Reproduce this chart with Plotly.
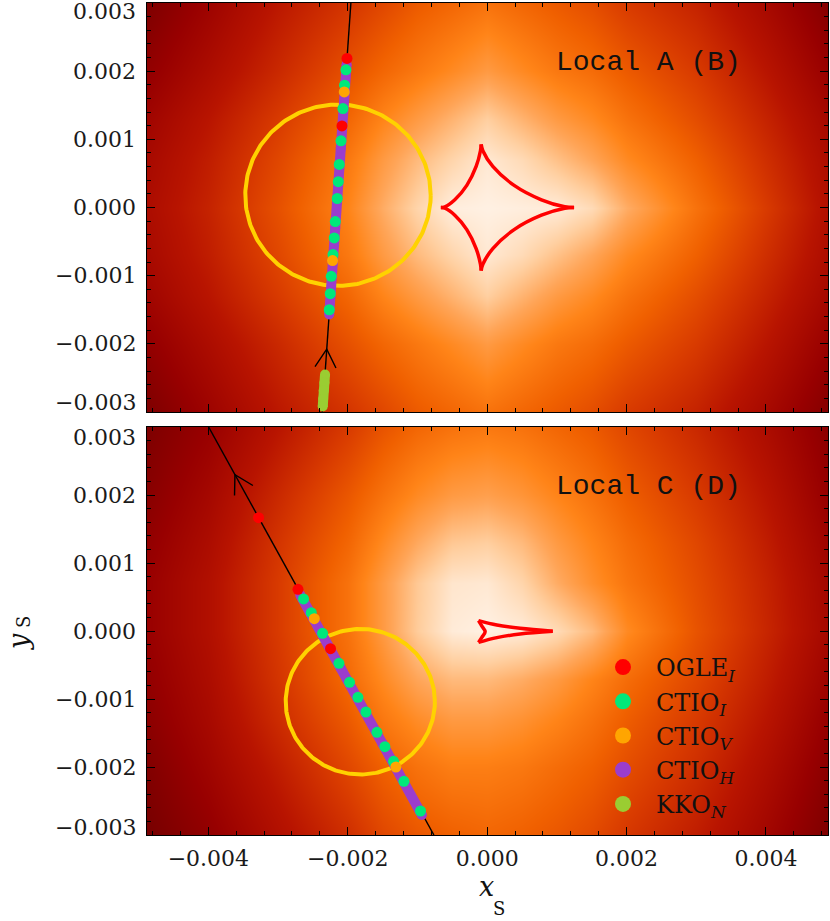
import numpy as np
import plotly.graph_objects as go

# ---------------- axes / layout constants ----------------
X_RANGE = [-0.00488, 0.00489]
Y_RANGE = [-0.003, 0.003]
FIG_W, FIG_H = 830, 921
M_L, M_R, M_T, M_B = 147, 2, 3, 86
PLOT_W = FIG_W - M_L - M_R
PLOT_H = FIG_H - M_T - M_B
TOP_DOMAIN = [(835 - 412) / PLOT_H, 1.0]
BOT_DOMAIN = [0.0, (835 - 427) / PLOT_H]
PANEL_H = 409

y_tick_vals = [-0.003, -0.002, -0.001, 0.0, 0.001, 0.002, 0.003]
y_tick_text = ["\u22120.003", "\u22120.002", "\u22120.001", "0.000", "0.001", "0.002", "0.003"]

# ---------------- magnification background ----------------
grid_x = [-0.0049, -0.004, -0.003, -0.002, -0.0015, -0.001, -0.0005, 0.0,
          0.0005, 0.001, 0.0015, 0.002, 0.003, 0.004, 0.0049]
grid_y = [-0.003, -0.002, -0.0013, -0.0007, 0.0, 0.0007, 0.0013, 0.002, 0.003]

mag_top = [
    [0.04, 0.14, 0.26, 0.36, 0.42, 0.48, 0.52, 0.56, 0.52, 0.48, 0.44, 0.38, 0.30, 0.18, 0.06],
    [0.10, 0.20, 0.32, 0.45, 0.52, 0.58, 0.64, 0.70, 0.64, 0.58, 0.54, 0.48, 0.38, 0.25, 0.12],
    [0.15, 0.25, 0.38, 0.52, 0.62, 0.70, 0.78, 0.86, 0.78, 0.70, 0.64, 0.56, 0.44, 0.30, 0.17],
    [0.18, 0.28, 0.42, 0.58, 0.70, 0.80, 0.88, 0.95, 0.90, 0.82, 0.74, 0.64, 0.50, 0.34, 0.20],
    [0.20, 0.30, 0.45, 0.62, 0.76, 0.88, 0.97, 0.98, 0.97, 0.96, 0.90, 0.76, 0.56, 0.38, 0.22],
    [0.18, 0.28, 0.42, 0.58, 0.70, 0.80, 0.88, 0.95, 0.90, 0.82, 0.74, 0.64, 0.50, 0.34, 0.20],
    [0.15, 0.25, 0.38, 0.52, 0.62, 0.70, 0.78, 0.86, 0.78, 0.70, 0.64, 0.56, 0.44, 0.30, 0.17],
    [0.10, 0.20, 0.32, 0.45, 0.52, 0.58, 0.64, 0.70, 0.64, 0.58, 0.54, 0.48, 0.38, 0.25, 0.12],
    [0.04, 0.14, 0.26, 0.36, 0.42, 0.48, 0.52, 0.56, 0.52, 0.48, 0.44, 0.38, 0.30, 0.18, 0.06],
]
mag_bot = [
    [0.02, 0.10, 0.22, 0.34, 0.42, 0.47, 0.50, 0.52, 0.50, 0.47, 0.43, 0.37, 0.28, 0.16, 0.04],
    [0.05, 0.15, 0.28, 0.42, 0.50, 0.56, 0.60, 0.60, 0.58, 0.54, 0.50, 0.44, 0.34, 0.21, 0.08],
    [0.08, 0.18, 0.33, 0.48, 0.58, 0.65, 0.70, 0.70, 0.67, 0.62, 0.56, 0.49, 0.38, 0.25, 0.11],
    [0.10, 0.20, 0.36, 0.53, 0.64, 0.74, 0.80, 0.80, 0.76, 0.70, 0.62, 0.54, 0.42, 0.28, 0.14],
    [0.12, 0.22, 0.38, 0.56, 0.70, 0.85, 0.96, 0.98, 0.96, 0.90, 0.80, 0.64, 0.46, 0.31, 0.17],
    [0.12, 0.22, 0.38, 0.56, 0.70, 0.84, 0.94, 0.95, 0.88, 0.76, 0.66, 0.57, 0.44, 0.30, 0.16],
    [0.10, 0.20, 0.36, 0.52, 0.64, 0.75, 0.84, 0.86, 0.80, 0.70, 0.62, 0.54, 0.42, 0.28, 0.14],
    [0.07, 0.17, 0.32, 0.47, 0.56, 0.64, 0.70, 0.72, 0.68, 0.62, 0.56, 0.49, 0.38, 0.25, 0.11],
    [0.04, 0.12, 0.25, 0.38, 0.46, 0.52, 0.56, 0.58, 0.56, 0.52, 0.48, 0.42, 0.32, 0.20, 0.08],
]
mag_colorscale = [
    [0.00, "#700000"], [0.12, "#980000"], [0.25, "#b81400"], [0.38, "#d83a00"],
    [0.50, "#f06000"], [0.62, "#ff8418"], [0.74, "#ffa558"], [0.86, "#ffcfa0"],
    [1.00, "#fff6ee"],
]

# ---------------- caustics ----------------
caustic_top_arcs_x = [
    [-0.000664, -0.000607, -0.000464, -0.000292, -0.000158, -0.000096, -0.000086],
    [-0.000086, -0.000062, 0.000081, 0.000387, 0.000779, 0.001114, 0.001247],
    [0.001247, 0.001114, 0.000779, 0.000387, 0.000081, -0.000062, -0.000086],
    [-0.000086, -0.000096, -0.000158, -0.000292, -0.000464, -0.000607, -0.000664],
]
caustic_top_arcs_y = [
    [0.0, 0.00001, 0.000113, 0.000324, 0.000603, 0.000833, 0.000926],
    [0.000926, 0.000833, 0.000603, 0.000324, 0.000113, 0.00001, 0.0],
    [0.0, -0.00001, -0.000113, -0.000324, -0.000603, -0.000833, -0.000926],
    [-0.000926, -0.000833, -0.000603, -0.000324, -0.000113, -0.00001, 0.0],
]
caustic_bot_arcs_x = [
    [-0.000124, 0.000139, 0.000473, 0.000941],
    [0.000941, 0.000473, 0.000139, -0.000124],
    [-0.000124, -0.0000765, -0.0000287, -0.0000765, -0.000124],
]
caustic_bot_arcs_y = [
    [0.000152, 0.000088, 0.000039, -0.000005],
    [-0.000005, -0.000044, -0.000098, -0.000167],
    [-0.000167, -0.000093, -0.00001, 0.0000735, 0.000152],
]

# ---------------- source trajectories (start -> end, direction of motion) ----------------
traj_top_x = [-0.002364, -0.001955]
traj_top_y = [-0.003, 0.003]
traj_bot_x = [-0.000764, -0.003996]
traj_bot_y = [-0.003, 0.003]
arrow_top_y = -0.002078
arrow_bot_y = 0.002299

# ---------------- source size circles ----------------
circle_top = (-0.00214, 0.00018, 0.00133)
circle_bot = (-0.00182, -0.00104, 0.00107)

# ---------------- data points ----------------
ogle_top_x = [-0.002011, -0.002083]
ogle_top_y = [0.002187, 0.001196]
ctioI_top_x = [-0.002026, -0.002046, -0.002069, -0.002097, -0.002122, -0.002136, -0.002151,
               -0.002179, -0.002194, -0.002212, -0.002237, -0.002251, -0.002265]
ctioI_top_y = [0.002019, 0.001794, 0.001451, 0.000978, 0.000632, 0.000378, 0.000132,
               -0.000206, -0.000446, -0.000691, -0.001010, -0.001265, -0.0015]
ctioV_top_x = [-0.002050, -0.002218]
ctioV_top_y = [0.001696, -0.000779]
ctioH_top_x = [-0.002016, -0.002100, -0.002180, -0.002266]
ctioH_top_y = [0.0021, 0.00087, -0.00030, -0.00157]
kko_top_x = [-0.002326, -0.002335, -0.002345, -0.002352, -0.002359]
kko_top_y = [-0.00245, -0.00257, -0.00269, -0.00281, -0.00292]

ogle_bot_x = [-0.003279, -0.002714, -0.002247]
ogle_bot_y = [0.001666, 0.000613, -0.000260]
ctioI_bot_x = [-0.002634, -0.002523, -0.002361, -0.002126, -0.001974, -0.001854, -0.001739,
               -0.001581, -0.001467, -0.001343, -0.001194, -0.000956]
ctioI_bot_y = [0.000471, 0.000269, -0.000034, -0.000475, -0.000754, -0.000975, -0.001191,
               -0.001490, -0.001701, -0.001916, -0.002210, -0.002647]
ctioV_bot_x = [-0.002480, -0.001309]
ctioV_bot_y = [0.000181, -0.002]
ctioH_bot_x = [-0.002681, -0.002100, -0.001500, -0.000936]
ctioH_bot_y = [0.000529, -0.000550, -0.001660, -0.002706]

legend_names = ["OGLE<sub><i>I</i></sub>", "CTIO<sub><i>I</i></sub>", "CTIO<sub><i>V</i></sub>",
                "CTIO<sub><i>H</i></sub>", "KKO<sub><i>N</i></sub>"]
legend_colors = ["#ff0000", "#00e87a", "#ffa500", "#9b3dcc", "#9acd32"]
C_OGLE, C_CI, C_CV, C_CH, C_KKO = legend_colors

panel_labels = ["Local A (B)", "Local C (D)"]
label_pos = (0.00231, 0.00213)

# ---------------- build figure ----------------
fig = go.Figure()
SX = PLOT_W / (X_RANGE[1] - X_RANGE[0])
SY = PANEL_H / (Y_RANGE[1] - Y_RANGE[0])


def arrow_arms(tx, ty, apex_y, length=21.0, ang=30.0):
    slope = (tx[1] - tx[0]) / (ty[1] - ty[0])
    ax = tx[0] + (apex_y - ty[0]) * slope
    bx = (tx[0] - tx[1]) * SX
    by = (ty[0] - ty[1]) * SY
    n = np.hypot(bx, by)
    bx, by = bx / n, by / n
    xs, ys = [], []
    for s in (1, -1):
        a = np.radians(ang * s)
        rx = bx * np.cos(a) - by * np.sin(a)
        ry = bx * np.sin(a) + by * np.cos(a)
        xs.append(ax + length * rx / SX)
        ys.append(apex_y + length * ry / SY)
    return [xs[0], ax, xs[1]], [ys[0], apex_y, ys[1]]


def add_panel(xa, ya, mag, caus_x, caus_y, tx, ty, arrow_y, circ, bands, points):
    fig.add_trace(go.Heatmap(x=grid_x, y=grid_y, z=mag, colorscale=mag_colorscale, zmin=0, zmax=1,
                             zsmooth="best", showscale=False, hoverinfo="skip", xaxis=xa, yaxis=ya))
    fig.add_trace(go.Scatter(x=tx, y=ty, mode="lines", line=dict(color="black", width=1.4),
                             showlegend=False, hoverinfo="skip", xaxis=xa, yaxis=ya))
    axx, ayy = arrow_arms(tx, ty, arrow_y)
    fig.add_trace(go.Scatter(x=axx, y=ayy, mode="lines", line=dict(color="black", width=1.4),
                             showlegend=False, hoverinfo="skip", xaxis=xa, yaxis=ya))
    cx, cy, r = circ
    th = np.linspace(0, 2 * np.pi, 241)
    fig.add_trace(go.Scatter(x=cx + r * np.cos(th), y=cy + r * np.sin(th), mode="lines",
                             line=dict(color="#ffd200", width=4), showlegend=False,
                             hoverinfo="skip", xaxis=xa, yaxis=ya))
    for cxs, cys in zip(caus_x, caus_y):
        fig.add_trace(go.Scatter(x=cxs, y=cys, mode="lines", line=dict(color="#ff0000", width=3.5, shape="spline"),
                                 showlegend=False, hoverinfo="skip", xaxis=xa, yaxis=ya))
    for bx, by, col in bands:
        fig.add_trace(go.Scatter(x=bx, y=by, mode="lines+markers", line=dict(color=col, width=10),
                                 marker=dict(color=col, size=10), showlegend=False,
                                 hoverinfo="skip", xaxis=xa, yaxis=ya))
    for px, py, col in points:
        fig.add_trace(go.Scatter(x=px, y=py, mode="markers", marker=dict(color=col, size=11),
                                 showlegend=False, hoverinfo="skip", xaxis=xa, yaxis=ya))


add_panel("x", "y", mag_top, caustic_top_arcs_x, caustic_top_arcs_y, traj_top_x, traj_top_y,
          arrow_top_y, circle_top,
          [(ctioH_top_x, ctioH_top_y, C_CH), (kko_top_x, kko_top_y, C_KKO)],
          [(ctioI_top_x, ctioI_top_y, C_CI), (ogle_top_x, ogle_top_y, C_OGLE),
           (ctioV_top_x, ctioV_top_y, C_CV)])
add_panel("x2", "y2", mag_bot, caustic_bot_arcs_x, caustic_bot_arcs_y, traj_bot_x, traj_bot_y,
          arrow_bot_y, circle_bot,
          [(ctioH_bot_x, ctioH_bot_y, C_CH)],
          [(ctioI_bot_x, ctioI_bot_y, C_CI), (ogle_bot_x, ogle_bot_y, C_OGLE),
           (ctioV_bot_x, ctioV_bot_y, C_CV)])

# legend-only entries
for i, (nm, col) in enumerate(zip(legend_names, legend_colors)):
    fig.add_trace(go.Scatter(x=[None], y=[None], mode="markers", name=nm, legendgroup=str(i),
                             marker=dict(color=col, size=16), xaxis="x2", yaxis="y2"))

TICKFONT = dict(family="DejaVu Serif", size=22, color="#1a1a1a")
common_x = dict(range=X_RANGE, showgrid=False, zeroline=False, showline=True, linecolor="black",
                linewidth=1, mirror="allticks", ticks="inside", ticklen=8, tickcolor="black",
                tick0=0, dtick=0.002, tickformat=".3f", tickfont=TICKFONT,
                minor=dict(ticks="inside", ticklen=4, tickcolor="black", tick0=0, dtick=0.0004))
common_y = dict(range=Y_RANGE, showgrid=False, zeroline=False, showline=True, linecolor="black",
                linewidth=1, mirror="allticks", ticks="inside", ticklen=8, tickcolor="black",
                tick0=0, dtick=0.001, showticklabels=False,
                minor=dict(ticks="inside", ticklen=4, tickcolor="black", tick0=0, dtick=0.0002))

LABFONT = dict(family="DejaVu Serif", size=27, color="#111111")
SUBFONT = dict(family="DejaVu Serif", size=18, color="#111111")


def ppx(px):
    return (px - M_L) / PLOT_W


def ppy(py):
    return (FIG_H - M_B - py) / PLOT_H


annotations = []
for yref, yshifts in (("y", {0.003: -8, -0.003: 10}), ("y2", {0.003: -10, -0.003: 8})):
    for v, t in zip(y_tick_vals, y_tick_text):
        annotations.append(dict(x=-0.013, xref="paper", y=v, yref=yref, text=t, showarrow=False,
                                xanchor="right", yanchor="middle", yshift=yshifts.get(v, 0),
                                font=TICKFONT))
for lab, xr, yr in zip(panel_labels, ("x", "x2"), ("y", "y2")):
    annotations.append(dict(x=label_pos[0], y=label_pos[1], xref=xr, yref=yr, text=lab,
                            showarrow=False, xanchor="center", yanchor="middle",
                            font=dict(family="Liberation Mono", size=28, color="#111111")))
# axis titles: x_S and y_S (subscript placed low as in the original)
annotations += [
    dict(x=ppx(486), y=ppy(886), xref="paper", yref="paper", text="<i>x</i>", showarrow=False,
         xanchor="center", yanchor="middle", font=LABFONT),
    dict(x=ppx(499), y=ppy(908), xref="paper", yref="paper", text="S", showarrow=False,
         xanchor="center", yanchor="middle", font=SUBFONT),
    dict(x=ppx(18), y=ppy(642), xref="paper", yref="paper", text="<i>y</i>", showarrow=False,
         textangle=-90, xanchor="center", yanchor="middle", font=LABFONT),
    dict(x=ppx(23), y=ppy(622), xref="paper", yref="paper", text="S", showarrow=False,
         textangle=-90, xanchor="center", yanchor="middle", font=SUBFONT),
]

fig.update_layout(
    width=FIG_W, height=FIG_H,
    margin=dict(l=M_L, r=M_R, t=M_T, b=M_B),
    paper_bgcolor="white", plot_bgcolor="white",
    xaxis=dict(common_x, anchor="y", showticklabels=False),
    yaxis=dict(common_y, domain=TOP_DOMAIN, anchor="x"),
    xaxis2=dict(common_x, anchor="y2", ticklabelstandoff=4),
    yaxis2=dict(common_y, domain=BOT_DOMAIN, anchor="x2"),
    annotations=annotations,
    showlegend=True,
    legend=dict(x=ppx(590), y=ppy(645), xanchor="left", yanchor="top",
                bgcolor="rgba(0,0,0,0)", font=dict(family="DejaVu Serif", size=24, color="#111111"),
                itemwidth=56, tracegroupgap=0, traceorder="grouped"),
    hovermode=False,
)

fig.write_html("out.html", config={"displayModeBar": False},
               post_script="document.body.style.margin='0';document.body.style.padding='0';")
